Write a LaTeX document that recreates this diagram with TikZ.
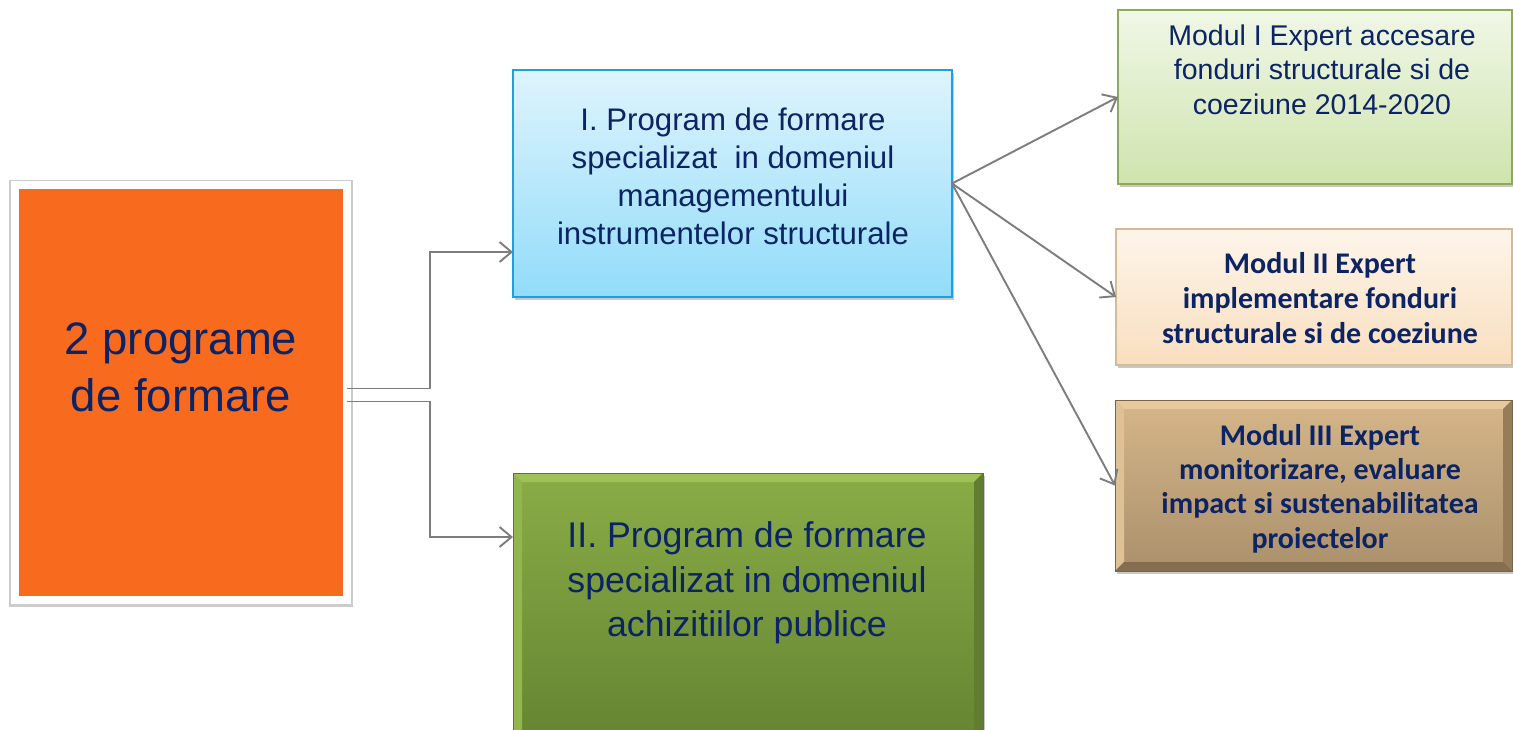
\documentclass[tikz,border=0pt]{standalone}
\usepackage{fontspec}
\setmainfont{Liberation Sans}
\newfontfamily\calibri{Carlito}
\usetikzlibrary{arrows.meta,shadows,calc}
\definecolor{navy}{RGB}{12,36,100}
\definecolor{connGray}{RGB}{125,125,125}
\definecolor{orangeF}{RGB}{248,106,30}
\definecolor{blueTop}{RGB}{222,244,253}
\definecolor{blueBot}{RGB}{146,220,250}
\definecolor{blueLine}{RGB}{30,160,220}
\definecolor{gTop}{RGB}{138,172,70}
\definecolor{gBot}{RGB}{100,132,50}
\definecolor{gBevT}{RGB}{158,194,88}
\definecolor{gBevL}{RGB}{146,182,78}
\definecolor{gBevR}{RGB}{96,126,46}
\definecolor{gBevB}{RGB}{82,108,38}
\definecolor{gLine}{RGB}{92,118,46}
\definecolor{m1Top}{RGB}{240,247,231}
\definecolor{m1Bot}{RGB}{207,228,174}
\definecolor{m1Line}{RGB}{140,170,90}
\definecolor{m2Top}{RGB}{253,245,234}
\definecolor{m2Bot}{RGB}{249,222,191}
\definecolor{m2Line}{RGB}{212,186,150}
\definecolor{tTop}{RGB}{214,182,137}
\definecolor{tBot}{RGB}{170,144,108}
\definecolor{tBevT}{RGB}{230,202,158}
\definecolor{tBevL}{RGB}{222,193,149}
\definecolor{tBevR}{RGB}{150,125,90}
\definecolor{tBevB}{RGB}{132,110,80}
\definecolor{tLine}{RGB}{120,100,70}
\tikzset{
  boxshadow/.style={drop shadow={shadow xshift=2pt,shadow yshift=-3pt,opacity=0.3,fill=black!70}},
  conn/.style={draw=connGray,line width=1.9pt,-{Straight Barb[length=12pt,width=20pt,line width=1.9pt]}},
  plainbox/.style={rectangle,anchor=north west,inner sep=0pt,outer sep=0pt,boxshadow},
  lbl/.style={text=navy,align=center,inner sep=0pt},
}
\begin{document}
\begin{tikzpicture}[x=1pt,y=-1pt]
\useasboundingbox (0,0) rectangle (1513,729);
\fill[white] (0,0) rectangle (1513,729);

% left orange box with white frame
\node[rectangle,anchor=north west,inner sep=0pt,outer sep=0pt,
      preaction={draw=black!20,line width=12pt,rounded corners=2pt,transform canvas={yshift=-1.5pt}},
      draw=white,line width=8pt,fill=orangeF,minimum width=332pt,minimum height=415pt] (o) at (15,184.5) {};
\node[lbl,font=\fontsize{45.5}{57}\selectfont] (ot) at (181,367) {2 programe\\de formare};

% blue box
\node[plainbox,draw=blueLine,line width=1.5pt,top color=blueTop,bottom color=blueBot,minimum width=439pt,minimum height=227pt] (b1) at (513,70) {};
\node[lbl,font=\fontsize{31.2}{38}\selectfont] (b1t) at (733,176) {I. Program de formare\\specializat\ \ in domeniul\\managementului\\instrumentelor structurale};

% green program II box (bevel)
\node[plainbox,draw=gLine,line width=1pt,top color=gTop,bottom color=gBot,minimum width=470pt,minimum height=272pt] (b2) at (513,473) {};
\fill[gBevT] (b2.north west) -- (b2.north east) -- ($(b2.north east)+(-9,9)$) -- ($(b2.north west)+(9,9)$) -- cycle;
\fill[gBevL] (b2.north west) -- ($(b2.north west)+(9,9)$) -- ($(b2.south west)+(9,-9)$) -- (b2.south west) -- cycle;
\fill[gBevR] (b2.north east) -- ($(b2.north east)+(-9,9)$) -- ($(b2.south east)+(-9,-9)$) -- (b2.south east) -- cycle;
\fill[gBevB] (b2.south west) -- ($(b2.south west)+(9,-9)$) -- ($(b2.south east)+(-9,-9)$) -- (b2.south east) -- cycle;
\draw[gLine,line width=1pt] (b2.north west) rectangle (b2.south east);
\node[lbl,font=\fontsize{35.7}{44.5}\selectfont] (b2t) at (747,583) {II. Program de formare\\specializat in domeniul\\achizitiilor publice};

% Modul I
\node[plainbox,draw=m1Line,line width=1.5pt,top color=m1Top,bottom color=m1Bot,minimum width=394pt,minimum height=174pt] (m1) at (1118,10) {};
\node[lbl,font=\fontsize{28.5}{34.5}\selectfont] (m1t) at (1322,69.5) {Modul I Expert accesare\\fonduri structurale si de\\coeziune 2014-2020};

% Modul II
\node[plainbox,draw=m2Line,line width=1.5pt,top color=m2Top,bottom color=m2Bot,minimum width=396pt,minimum height=136pt] (m2) at (1116,229) {};
\node[lbl,font=\calibri\bfseries\fontsize{30}{35}\selectfont] (m2t) at (1320,298) {Modul II Expert\\implementare fonduri\\structurale si de coeziune};

% Modul III (bevel)
\node[plainbox,draw=tLine,line width=1pt,top color=tTop,bottom color=tBot,minimum width=397pt,minimum height=171pt] (m3) at (1115,400) {};
\fill[tBevT] (m3.north west) -- (m3.north east) -- ($(m3.north east)+(-9,9)$) -- ($(m3.north west)+(9,9)$) -- cycle;
\fill[tBevL] (m3.north west) -- ($(m3.north west)+(9,9)$) -- ($(m3.south west)+(9,-9)$) -- (m3.south west) -- cycle;
\fill[tBevR] (m3.north east) -- ($(m3.north east)+(-9,9)$) -- ($(m3.south east)+(-9,-9)$) -- (m3.south east) -- cycle;
\fill[tBevB] (m3.south west) -- ($(m3.south west)+(9,-9)$) -- ($(m3.south east)+(-9,-9)$) -- (m3.south east) -- cycle;
\draw[tLine,line width=1pt] (m3.north west) rectangle (m3.south east);
\node[lbl,font=\calibri\bfseries\fontsize{30}{34.3}\selectfont] (m3t) at (1320,488.5) {Modul III Expert\\monitorizare, evaluare\\impact si sustenabilitatea\\proiectelor};

% connectors
\draw[conn] ([yshift=3.5pt]o.east) -- ++(83,0) |- ([yshift=45pt]b1.south west);
\draw[conn] ([yshift=-9.5pt]o.east) -- ++(83,0) |- ([yshift=-64pt]b2.north west);
\draw[conn] (b1.east) -- (m1.west);
\draw[conn] (b1.east) -- (m2.west);
\draw[conn] (b1.east) -- (m3.west);
\end{tikzpicture}
\end{document}
